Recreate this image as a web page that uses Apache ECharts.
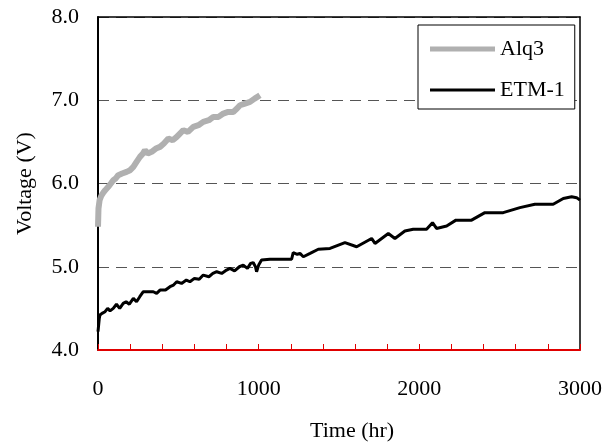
<!DOCTYPE html>
<html>
<head>
<meta charset="utf-8">
<script src="https://cdn.jsdelivr.net/npm/echarts@6/dist/echarts.min.js"></script>
<style>
  html, body { margin: 0; padding: 0; background: #fff; }
</style>
</head>
<body>
<div id="main" style="width: 615px; height: 443px;"></div>
<script type="text/javascript">
    // time (hr) / voltage (V)
    var alq3Time = [0, 3, 10, 20, 33, 45, 64, 80, 95, 110, 126, 150, 178, 200, 220, 240, 261, 280, 292, 310,
        334, 360, 386, 410, 438, 465, 490, 510, 531, 560, 593, 625, 655, 690, 718, 750, 780, 810, 842, 865,
        884, 915, 946, 975, 1008];
    var alq3Volt = [5.48, 5.70, 5.80, 5.85, 5.89, 5.92, 5.96, 6.00, 6.04, 6.06, 6.10, 6.12, 6.14, 6.16, 6.20, 6.26, 6.32, 6.36, 6.40, 6.36,
        6.38, 6.42, 6.44, 6.48, 6.54, 6.52, 6.56, 6.60, 6.64, 6.62, 6.68, 6.70, 6.74, 6.76, 6.80, 6.80, 6.84, 6.86, 6.86, 6.90,
        6.94, 6.96, 6.98, 7.02, 7.06];

    var etmTime = [0, 2, 8, 12, 25, 44, 60, 75, 95, 115, 135, 157, 175, 195, 220, 240, 260, 282, 310, 344,
        365, 386, 420, 448, 470, 490, 520, 550, 572, 600, 630, 655, 690, 715, 739, 770, 800, 821, 850, 880,
        904, 930, 950, 966, 980, 987, 1000, 1018, 1070, 1205, 1215, 1240, 1257, 1278, 1320, 1371, 1444, 1537, 1610, 1703,
        1724, 1807, 1848, 1910, 1962, 2045, 2082, 2107, 2170, 2228, 2325, 2408, 2522, 2626, 2719, 2833, 2896, 2948, 2979, 3000];
    var etmVolt = [4.22, 4.26, 4.38, 4.42, 4.44, 4.46, 4.50, 4.47, 4.50, 4.55, 4.50, 4.56, 4.58, 4.55, 4.62, 4.58, 4.64, 4.70, 4.70, 4.70,
        4.68, 4.72, 4.72, 4.76, 4.78, 4.82, 4.80, 4.84, 4.82, 4.86, 4.85, 4.90, 4.88, 4.92, 4.94, 4.92, 4.96, 4.98, 4.95, 5.00,
        5.02, 4.98, 5.04, 5.05, 5.00, 4.94, 5.02, 5.08, 5.09, 5.09, 5.17, 5.15, 5.16, 5.12, 5.16, 5.21, 5.22, 5.29, 5.24, 5.34,
        5.28, 5.40, 5.34, 5.43, 5.45, 5.45, 5.53, 5.46, 5.49, 5.56, 5.56, 5.65, 5.65, 5.71, 5.75, 5.75, 5.82, 5.84, 5.83, 5.80];

    var seriesNames = ['Alq3', 'ETM-1'];

    function pairs(xs, ys) {
        var out = [];
        for (var i = 0; i < xs.length; i++) out.push([xs[i], ys[i]]);
        return out;
    }

    var font = 'Liberation Serif';
    // top / right edges of the plot box
    var frameAxis = {
        axisLine: {show: true, onZero: false, lineStyle: {color: '#000', width: 1.5}},
        axisTick: {show: false},
        axisLabel: {show: false},
        splitLine: {show: false}
    };

    var myChart = echarts.init(document.getElementById('main'));
    myChart.setOption({
        animation: false,
        title: {
            text: 'Time (hr)',
            left: 310,
            top: 420,
            padding: 0,
            textStyle: {fontFamily: font, fontSize: 22, fontWeight: 'normal', color: '#000'}
        },
        grid: {left: 98, right: 35, top: 17, bottom: 93, outerBoundsMode: 'none'},
        legend: {
            data: [
                {name: seriesNames[0], icon: 'path://M0 0H65V5H0Z'},
                {name: seriesNames[1], icon: 'path://M0 0H65V3H0Z'}
            ],
            orient: 'vertical',
            left: 418,
            top: 25,
            padding: [12, 10, 7, 12],
            itemWidth: 65,
            itemHeight: 14,
            itemGap: 17,
            borderColor: '#000',
            borderWidth: 1,
            backgroundColor: '#fff',
            textStyle: {fontFamily: font, fontSize: 22, color: '#000', lineHeight: 24}
        },
        xAxis: [
            {
                type: 'value', min: 0, max: 3000, interval: 200,
                axisLine: {show: true, onZero: false, lineStyle: {color: '#e00000', width: 2}},
                axisTick: {show: true, inside: true, length: 6, lineStyle: {color: '#e00000', width: 1}},
                axisLabel: {
                    fontFamily: font, fontSize: 22, color: '#000', margin: 28,
                    formatter: function (v) { return v % 1000 === 0 ? String(v) : ''; }
                },
                splitLine: {show: true, lineStyle: {color: 'rgba(0,0,0,0)'}}
            },
            Object.assign({type: 'value', position: 'top', min: 0, max: 3000}, frameAxis)
        ],
        yAxis: [
            {
                type: 'value', min: 4, max: 8, interval: 1,
                name: 'Voltage (V)',
                nameLocation: 'middle',
                nameGap: 62,
                nameTextStyle: {fontFamily: font, fontSize: 22, color: '#000'},
                axisLine: {show: true, onZero: false, lineStyle: {color: '#000', width: 2}},
                axisTick: {show: false},
                axisLabel: {
                    fontFamily: font, fontSize: 22, color: '#000', margin: 19,
                    formatter: function (v) { return v.toFixed(1); }
                },
                splitLine: {show: true, lineStyle: {color: '#555', width: 1, type: [11, 7]}}
            },
            Object.assign({type: 'value', position: 'right', min: 4, max: 8}, frameAxis)
        ],
        series: [
            {
                name: seriesNames[0], type: 'line', symbol: 'none',
                lineStyle: {color: '#b0b0b0', width: 6},
                itemStyle: {color: '#b0b0b0'},
                data: pairs(alq3Time, alq3Volt)
            },
            {
                name: seriesNames[1], type: 'line', symbol: 'none',
                lineStyle: {color: '#000', width: 3},
                itemStyle: {color: '#000'},
                data: pairs(etmTime, etmVolt)
            }
        ]
    });
</script>
</body>
</html>
